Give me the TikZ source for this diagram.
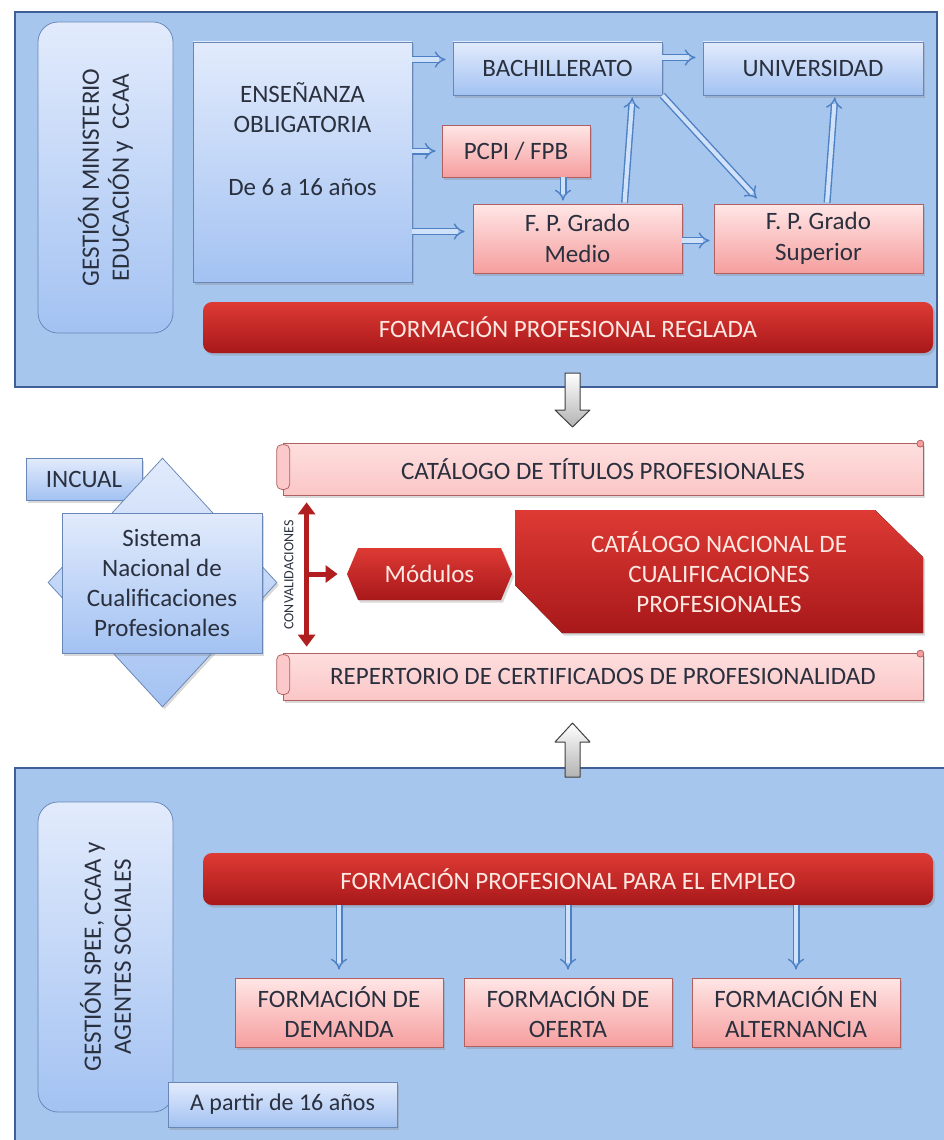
\documentclass[tikz,border=0pt]{standalone}
\usepackage{fontspec}
\setmainfont{Carlito}
\usetikzlibrary{arrows.meta,shapes.geometric,shapes.symbols,shadows}

\definecolor{panelfill}{RGB}{166,198,238}
\definecolor{paneledge}{RGB}{62,96,150}
\definecolor{bluetop}{RGB}{226,235,252}
\definecolor{bluebot}{RGB}{163,194,242}
\definecolor{blueedge}{RGB}{104,134,182}
\definecolor{pinktop}{RGB}{255,230,230}
\definecolor{pinkbot}{RGB}{246,158,158}
\definecolor{pinkedge}{RGB}{176,96,96}
\definecolor{redtop}{RGB}{222,58,52}
\definecolor{redbot}{RGB}{168,24,26}
\definecolor{redtext}{RGB}{255,232,226}
\definecolor{inktext}{RGB}{42,48,62}
\definecolor{arrowline}{RGB}{78,128,196}
\definecolor{arrowfill}{RGB}{208,226,250}
\definecolor{convred}{RGB}{176,30,32}

\tikzset{every picture/.style={line width=0.75pt}}
\tikzset{
  boxfont/.style={font=\fontsize{25}{30}\selectfont},
  shadowed/.style={drop shadow={shadow xshift=2pt,shadow yshift=-2.5pt,opacity=0.3}},
  panel/.style={draw=paneledge, fill=panelfill, line width=2.5pt},
  sidebox/.style={draw=blueedge, top color=bluetop, bottom color=bluebot, rounded corners=20pt,
    text=inktext, align=center, boxfont},
  bluebox/.style={draw=blueedge, top color=bluetop, bottom color=bluebot, shadowed,
    text=inktext, align=center, boxfont, inner sep=2pt},
  pinkbox/.style={draw=pinkedge, top color=pinktop, bottom color=pinkbot, shadowed,
    text=inktext, align=center, boxfont, inner sep=2pt},
  scrollbox/.style={draw=pinkedge, top color=pinktop!90!pinkbot, bottom color=pinktop!55!pinkbot, shadowed,
    text=inktext, align=center, boxfont, inner sep=2pt},
  redbar/.style={top color=redtop, bottom color=redbot, rounded corners=9pt, shadowed,
    text=redtext, align=center, boxfont},
  dblarrow/.style={draw=arrowline, double=arrowfill, double distance=4.2pt, line width=1.4pt, -{Implies}},
  convarrow/.style={draw=convred, line width=5pt},
  grayarrow/.style={draw=black!75, top color=white, bottom color=black!30, line width=1pt, line join=round}
}

\begin{document}
\begin{tikzpicture}[x=1pt,y=1pt,yscale=-1,xscale=1]
\useasboundingbox (0,0) rectangle (944,1140);

%Shape: Rectangle [upper panel]
\draw[panel] (15,12) rectangle (937,387);
%Shape: Rectangle [lower panel]
\draw[panel] (15,768) rectangle (954,1152);

% Block arrows between the panels
\draw[grayarrow] (565,373) -- (580,373) -- (580,410) -- (590,410) -- (572.5,427) -- (555,410) -- (565,410) -- cycle;
\draw[grayarrow] (565,777) -- (580,777) -- (580,742) -- (590,742) -- (572.5,723) -- (555,742) -- (565,742) -- cycle;

%%% upper panel
% Text Node
\node[sidebox, rotate=90, minimum width=311pt, minimum height=135pt] (gme) at (105.5,177.5) {GESTIÓN MINISTERIO\\EDUCACIÓN y~ CCAA};
% Text Node
\node[bluebox, minimum width=219pt, minimum height=240pt] (ense) at (302.5,162) {ENSEÑANZA\\OBLIGATORIA\\[33pt]De 6 a 16 años\\[7pt]\strut};
\node[bluebox, minimum width=209pt, minimum height=53pt] (bach) at (557.5,68.5) {BACHILLERATO};
\node[bluebox, minimum width=220pt, minimum height=53pt] (univ) at (813,68.5) {UNIVERSIDAD};
\node[pinkbox, minimum width=148pt, minimum height=52pt] (pcpi) at (516,151) {PCPI / FPB};
\node[pinkbox, minimum width=209pt, minimum height=69pt, font=\fontsize{25}{31}\selectfont] (fpm) at (577.5,238.5) {F. P. Grado\\Medio};
\node[pinkbox, minimum width=209pt, minimum height=69pt, font=\fontsize{25}{31}\selectfont] (fps) at (818.5,238.5) {F. P. Grado\\Superior};
\node[redbar, minimum width=730pt, minimum height=51pt] (fpr) at (568,327.5) {FORMACIÓN PROFESIONAL REGLADA};

%Straight Lines
\draw[dblarrow, shorten >=7pt] ([yshift=-9pt]ense.east |- bach.west) -- ([yshift=-9pt]bach.west);
\draw[dblarrow, shorten >=6pt] (ense.east |- pcpi.west) -- (pcpi.west);
\draw[dblarrow, shorten >=8pt] ([yshift=-7pt]ense.east |- fpm.west) -- ([yshift=-7pt]fpm.west);
\draw[dblarrow, shorten >=7pt] ([yshift=-11pt]bach.east) -- ([yshift=-11pt]univ.west);
\draw[dblarrow, shorten >=7pt] (bach.south east) -- ([xshift=48pt]fps.north west);
\draw[dblarrow, shorten <=1pt, shorten >=2pt] ([xshift=47pt]fpm.north) -- ([xshift=75pt]bach.south);
\draw[dblarrow, shorten <=1pt, shorten >=2pt] ([xshift=8.5pt]fps.north) -- ([xshift=22pt]univ.south);
\draw[dblarrow, shorten >=3pt] ([xshift=47pt]pcpi.south) -- ([xshift=47pt]pcpi.south |- fpm.north);
\draw[dblarrow, shorten >=4pt] ([yshift=2pt]fpm.east) -- ([yshift=2pt]fps.west);

%%% middle
% Text Node
\node[bluebox, minimum width=116pt, minimum height=42pt] (incual) at (84,479) {INCUAL};
%Shape: Diamond
\node[diamond, draw=blueedge, top color=bluetop, bottom color=bluebot, shadowed, minimum width=229pt, minimum height=249pt, inner sep=0pt] (sncdia) at (162.5,582.5) {};
% Text Node
\node[bluebox, minimum width=200pt, minimum height=140pt] (snc) at (162,583) {Sistema\\Nacional de\\Cualificaciones\\Profesionales};

% Text Node
\node[scrollbox, minimum width=640pt, minimum height=52pt] (ctp) at (603,469) {CATÁLOGO DE TÍTULOS PROFESIONALES};
\node[scrollbox, minimum width=640pt, minimum height=47pt] (rcp) at (603,676.5) {REPERTORIO DE CERTIFICADOS DE PROFESIONALIDAD};
% scroll ends
\foreach \s in {ctp,rcp}{
  \draw[draw=pinkedge, fill=pinktop!60!pinkbot, rounded corners=5pt] ([xshift=-6pt,yshift=2pt]\s.north west) rectangle ([xshift=7pt,yshift=-6pt]\s.south west);
  \draw[pinkedge, fill=pinkbot] ([xshift=-3pt,yshift=1pt]\s.north east) circle (3.5pt);
}

%Shape: Polygon
\fill[top color=redtop, bottom color=redbot, shadowed] (515,510) -- (875,510) -- (923,557) -- (923,633) -- (562,633) -- (515,585) -- cycle;
% Text Node
\node[text=redtext, align=center, boxfont] (cncp) at (719,572) {CATÁLOGO NACIONAL DE\\CUALIFICACIONES\\PROFESIONALES};
\node[signal, signal to=east and west, signal pointer angle=134, top color=redtop, bottom color=redbot, shadowed,
  minimum width=165pt, minimum height=52pt, text=redtext, boxfont] (mod) at (429.5,574) {Módulos};

% Convalidaciones
\coordinate (cv) at ([xshift=24pt]ctp.south west);
\draw[convarrow, {Triangle[length=12pt,width=17pt]}-{Triangle[length=12pt,width=17pt]}, shorten <=7pt, shorten >=6pt] (cv) -- (cv |- rcp.north);
\draw[convarrow, -{Triangle[length=12pt,width=17pt]}, shorten >=9pt] (cv |- mod.west) -- (mod.west);
\node[rotate=90, text=inktext, font=\fontsize{14}{14}\selectfont] (conv) at (289,575) {CONVALIDACIONES};

%%% lower panel
% Text Node
\node[sidebox, rotate=90, minimum width=310pt, minimum height=135pt] (gse) at (105.5,957) {GESTIÓN SPEE, CCAA y\\AGENTES SOCIALES};
\node[bluebox, minimum width=229pt, minimum height=45pt, font=\fontsize{24}{28}\selectfont] (a16) at (282.5,1104.5) {A partir de 16 años};
\node[redbar, minimum width=730pt, minimum height=52pt] (fpe) at (568,879) {FORMACIÓN PROFESIONAL PARA EL EMPLEO};
\node[pinkbox, minimum width=208pt, minimum height=69pt] (dem) at (339,1012.5) {FORMACIÓN DE\\DEMANDA};
\node[pinkbox, minimum width=208pt, minimum height=68pt] (ofe) at (568,1012) {FORMACIÓN DE\\OFERTA};
\node[pinkbox, minimum width=208pt, minimum height=69pt] (alt) at (796,1012.5) {FORMACIÓN EN\\ALTERNANCIA};

%Straight Lines
\foreach \b in {dem,ofe,alt}
  \draw[dblarrow, shorten >=8pt] (fpe.south -| \b.north) -- (\b.north);

\end{tikzpicture}
\end{document}
